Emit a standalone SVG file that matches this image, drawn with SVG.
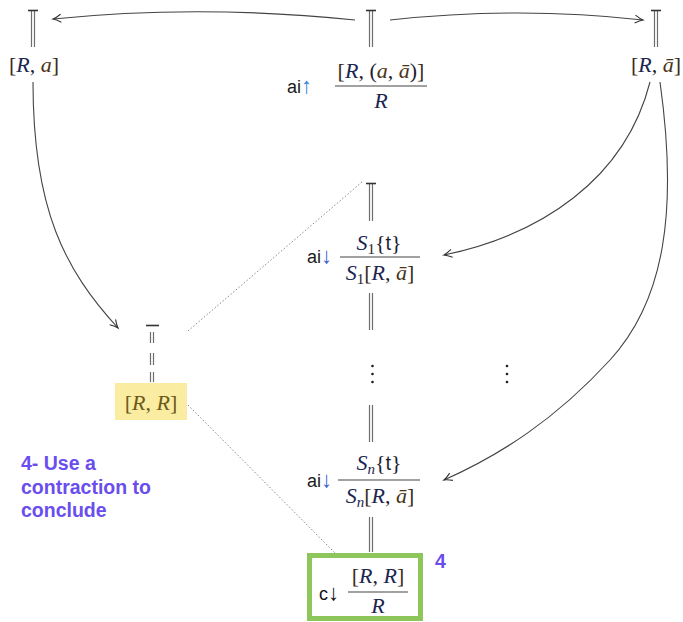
<svg xmlns="http://www.w3.org/2000/svg" width="683" height="622" viewBox="0 0 683 622">
<style>
.m{font-family:"Liberation Serif","DejaVu Serif",serif;font-size:22px;fill:#1e1e30}
.i{font-style:italic}
.br{fill:#3a2a20}
.R{fill:#1c2550}
.a{fill:#4a3418}
.sub{font-size:15px;font-style:normal}
.subi{font-size:15px;font-style:italic}
.sf{font-family:"Liberation Sans","DejaVu Sans",sans-serif;font-size:18px;fill:#1a1a1a}
.arr{fill:#3a7fd5;font-size:22px}
.dbl{stroke:#6e6e6e;stroke-width:1.2;fill:none}
.tee{stroke:#333;stroke-width:1.6}
.frac{stroke:#444;stroke-width:1.2}
.con{stroke:#444;stroke-width:1.1;fill:none;marker-end:url(#ah)}
.dot{stroke:#888;stroke-width:1;stroke-dasharray:1.5 2;fill:none}
.note{font-family:"Liberation Sans","DejaVu Sans",sans-serif;font-weight:bold;font-size:19.5px;fill:#6a4ded}
.vd{fill:#1e1e30}
</style>
<defs>
<marker id="ah" markerUnits="userSpaceOnUse" markerWidth="14" markerHeight="12" refX="0" refY="0" viewBox="-10 -6 12 12" orient="auto" overflow="visible">
<path d="M-8,-4 Q-3,-0.8 0,0 Q-3,0.8 -8,4" fill="none" stroke="#333" stroke-width="1.1"/>
</marker>
</defs>

<g id="connectors">
<path class="con" d="M355,20 Q200,4 53,19"/>
<path class="con" d="M390,20 Q520,6 643,20"/>
<path class="con" d="M33,82 C33,210 65,270 118,328"/>
<path class="con" d="M650,82 C625,180 540,235 444,255"/>
<path class="con" d="M660,82 C678,210 665,300 610,360 S500,455 444,480"/>
<path class="dot" d="M188,331 L362,182"/>
<path class="dot" d="M188,405 L335,553"/>
<path class="dbl" d="M31.5,11 V47 M34.5,11 V47"/>
<path class="dbl" d="M369.5,11 V47 M372.5,11 V47"/>
<path class="dbl" d="M654.5,11 V47 M657.5,11 V47"/>
<path class="dbl" d="M369.5,184 V221 M372.5,184 V221"/>
<path class="dbl" d="M369.5,293 V330 M372.5,293 V330"/>
<path class="dbl" d="M369.5,405 V442 M372.5,405 V442"/>
<path class="dbl" d="M369.5,517 V552 M372.5,517 V552"/>
<path class="dbl" d="M150.5,332 V343 M153.5,332 V343 M150.5,353 V365 M153.5,353 V365 M150.5,372 V382 M153.5,372 V382"/>
</g>

<g id="node-Ra">
<line class="tee" x1="28" y1="10.5" x2="38" y2="10.5"/>
<text class="m" x="34" y="72" text-anchor="middle"><tspan class="br">[</tspan><tspan class="i R">R</tspan>, <tspan class="i a">a</tspan><tspan class="br">]</tspan></text>
</g>

<g id="node-top">
<line class="tee" x1="366" y1="10.5" x2="376" y2="10.5"/>
<text class="sf" x="287" y="93">ai<tspan class="arr">↑</tspan></text>
<text class="m" x="381" y="78" text-anchor="middle"><tspan class="br">[</tspan><tspan class="i R">R</tspan>, (<tspan class="i a">a</tspan>, <tspan class="i a">ā</tspan>)<tspan class="br">]</tspan></text>
<line class="frac" x1="335" y1="86" x2="427" y2="86"/>
<text class="m i" x="381" y="108" text-anchor="middle"><tspan class="R">R</tspan></text>
</g>

<g id="node-Rabar">
<line class="tee" x1="651" y1="10.5" x2="661" y2="10.5"/>
<text class="m" x="656" y="72" text-anchor="middle"><tspan class="br">[</tspan><tspan class="i R">R</tspan>, <tspan class="i a">ā</tspan><tspan class="br">]</tspan></text>
</g>

<g id="node-S1">
<line class="tee" x1="366" y1="183.5" x2="376" y2="183.5"/>
<text class="sf" x="307" y="263">ai<tspan class="arr" style="fill:#3b5fd0">↓</tspan></text>
<text class="m" x="379" y="250" text-anchor="middle"><tspan class="i R">S</tspan><tspan class="sub" dy="4">1</tspan><tspan dy="-4">{</tspan><tspan style="font-family:'Liberation Sans',sans-serif;font-size:20px">t</tspan>}</text>
<line class="frac" x1="340" y1="257" x2="420" y2="257"/>
<text class="m" x="380" y="280" text-anchor="middle"><tspan class="i R">S</tspan><tspan class="sub" dy="4">1</tspan><tspan class="br" dy="-4">[</tspan><tspan class="i R">R</tspan>, <tspan class="i a">ā</tspan><tspan class="br">]</tspan></text>
</g>

<g id="vdots-mid">
<circle class="vd" cx="372.5" cy="366" r="1.3"/>
<circle class="vd" cx="372.5" cy="374" r="1.3"/>
<circle class="vd" cx="372.5" cy="382" r="1.3"/>
</g>
<g id="vdots-right">
<circle class="vd" cx="507" cy="366" r="1.3"/>
<circle class="vd" cx="507" cy="374" r="1.3"/>
<circle class="vd" cx="507" cy="382" r="1.3"/>
</g>

<g id="node-Sn">
<text class="sf" x="307" y="487">ai<tspan class="arr" style="fill:#3b5fd0">↓</tspan></text>
<text class="m" x="379" y="470" text-anchor="middle"><tspan class="i R">S</tspan><tspan class="subi R" dy="4">n</tspan><tspan dy="-4">{</tspan><tspan style="font-family:'Liberation Sans',sans-serif;font-size:20px">t</tspan>}</text>
<line class="frac" x1="338" y1="480" x2="420" y2="480"/>
<text class="m" x="380" y="503" text-anchor="middle"><tspan class="i R">S</tspan><tspan class="subi R" dy="4">n</tspan><tspan class="br" dy="-4">[</tspan><tspan class="i R">R</tspan>, <tspan class="i a">ā</tspan><tspan class="br">]</tspan></text>
</g>

<g id="node-RR">
<line class="tee" x1="146" y1="325.5" x2="159" y2="325.5"/>
<rect x="115" y="383" width="72" height="37" fill="#faeca0"/>
<text class="m" x="151" y="410" text-anchor="middle" style="fill:#6a5a1a"><tspan>[</tspan><tspan class="i">R</tspan>, <tspan class="i">R</tspan><tspan>]</tspan></text>
</g>

<g id="node-contraction">
<rect x="309.5" y="555.5" width="111" height="63" fill="#fff" stroke="#8dc65b" stroke-width="5"/>
<text class="sf" x="319" y="600" style="fill:#111">c<tspan style="font-size:22px">↓</tspan></text>
<text class="m" x="378" y="583" text-anchor="middle"><tspan class="br">[</tspan><tspan class="i R">R</tspan>, <tspan class="i R">R</tspan><tspan class="br">]</tspan></text>
<line class="frac" x1="348" y1="592" x2="408" y2="592"/>
<text class="m i" x="378" y="613" text-anchor="middle"><tspan class="R">R</tspan></text>
</g>

<g id="label-4">
<text class="note" x="435" y="568">4</text>
</g>

<g id="note">
<text class="note" x="21" y="470">4- Use a</text>
<text class="note" x="21" y="494">contraction to</text>
<text class="note" x="21" y="517">conclude</text>
</g>
</svg>
